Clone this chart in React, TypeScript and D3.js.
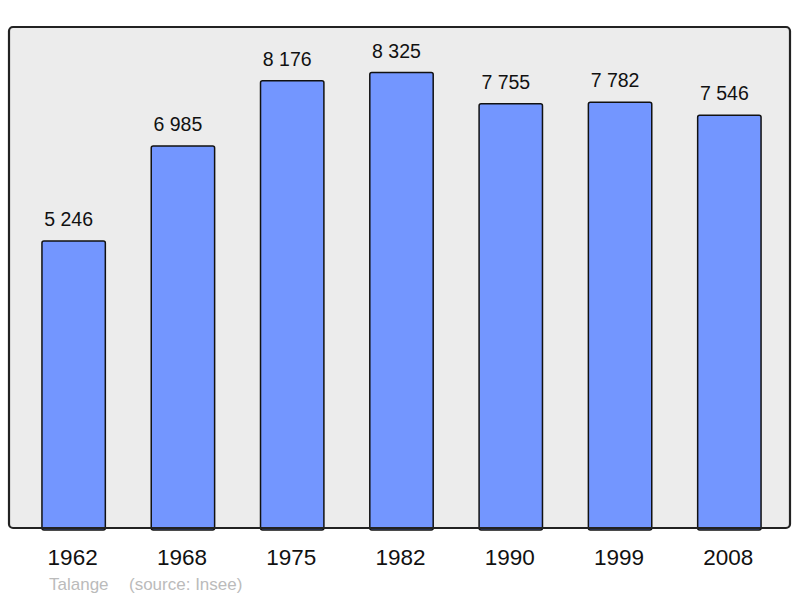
import React from "react";
import * as d3 from "d3";

const years = ["1962", "1968", "1975", "1982", "1990", "1999", "2008"];
const population = [5246, 6985, 8176, 8325, 7755, 7782, 7546];
const commune = "Talange";
const source = "(source: Insee)";

const W = 800;
const H = 598;
const panel = { x: 9, y: 27, w: 781, h: 501 };

export default function App() {
  const x = d3
    .scaleBand<string>()
    .domain(years)
    .range([19, 784])
    .paddingInner(0.42)
    .paddingOuter(0.21);
  const y = d3.scaleLinear().domain([0, 9158]).range([panel.y + panel.h, panel.y]);
  const fmt = (v: number) => d3.format(",")(v).replace(/,/g, " ");
  const font = "'Liberation Sans', Arial, sans-serif";

  return (
    <svg width={W} height={H} style={{ position: "absolute", left: 0, top: 0 }}>
      <rect x={panel.x} y={panel.y} width={panel.w} height={panel.h} rx={4} fill="#ececec" stroke="none" />
      {years.map((yr, i) => (
        <g key={yr}>
          <rect
            x={x(yr)!}
            y={y(population[i])}
            width={x.bandwidth()}
            height={y(0) - y(population[i]) + 2}
            rx={2}
            fill="#7396ff"
            stroke="#111"
            strokeWidth={1.5}
          />
          <text
            x={x(yr)! + x.bandwidth() / 2 - 5}
            y={y(population[i]) - 15}
            textAnchor="middle"
            fontFamily={font}
            fontSize={19.5}
            fill="#111"
          >
            {fmt(population[i])}
          </text>
          <text
            x={x(yr)! + x.bandwidth() / 2 - 1}
            y={565}
            textAnchor="middle"
            fontFamily={font}
            fontSize={22.5}
            fill="#111"
          >
            {yr}
          </text>
        </g>
      ))}
      <rect x={panel.x} y={panel.y} width={panel.w} height={panel.h} rx={4} fill="none" stroke="#222" strokeWidth={2.2} />
      <text x={49} y={590} fontFamily={font} fontSize={17} fill="#bbb">
        {commune}
      </text>
      <text x={129} y={590} fontFamily={font} fontSize={17} fill="#bbb">
        {source}
      </text>
    </svg>
  );
}
